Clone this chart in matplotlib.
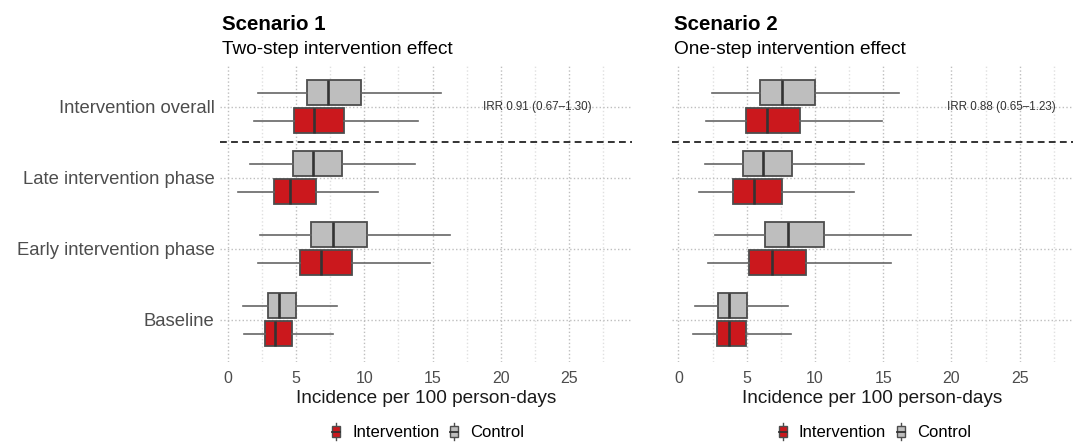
"""Boxplots of incidence per 100 person-days by study phase, two scenarios."""
import matplotlib
matplotlib.use("Agg")
import matplotlib.pyplot as plt
from matplotlib.patches import Rectangle
from matplotlib.lines import Line2D
from matplotlib.legend_handler import HandlerBase

plt.rcParams["font.family"] = ["Liberation Sans", "DejaVu Sans"]

categories = ["Baseline", "Early intervention phase", "Late intervention phase", "Intervention overall"]
groups = ["Intervention", "Control"]
x_ticks = [0, 5, 10, 15, 20, 25]

# [whisker low, q1, median, q3, whisker high] per category (Baseline -> Overall)
s1_control = [
    [1.10, 2.93, 3.76, 5.00, 8.03],
    [2.34, 6.08, 7.71, 10.18, 16.30],
    [1.66, 4.80, 6.25, 8.39, 13.74],
    [2.20, 5.78, 7.37, 9.74, 15.60],
]
s1_intervention = [
    [1.17, 2.71, 3.49, 4.69, 7.71],
    [2.20, 5.27, 6.81, 9.10, 14.84],
    [0.73, 3.39, 4.59, 6.44, 11.03],
    [1.90, 4.83, 6.32, 8.49, 13.90],
]
s2_control = [
    [1.22, 2.91, 3.74, 4.99, 8.04],
    [2.66, 6.33, 8.04, 10.63, 17.06],
    [1.93, 4.72, 6.16, 8.31, 13.61],
    [2.47, 5.94, 7.62, 10.04, 16.15],
]
s2_intervention = [
    [1.08, 2.79, 3.67, 4.94, 8.21],
    [2.20, 5.18, 6.84, 9.33, 15.54],
    [1.51, 4.03, 5.52, 7.58, 12.83],
    [2.03, 4.94, 6.52, 8.90, 14.88],
]

titles = ["Scenario 1", "Scenario 2"]
subtitles = ["Two-step intervention effect", "One-step intervention effect"]
irr_labels = ["IRR 0.91 (0.67\u20131.30)", "IRR 0.88 (0.65\u20131.23)"]

RED = "#CB181D"
GREY = "#BEBEBE"
EDGE = "#4D4D4D"
TXT = "#4D4D4D"


class HandlerBoxKey(HandlerBase):
    """Small boxplot glyph for the legend keys (like ggplot's)."""

    def create_artists(self, legend, orig_handle, xdescent, ydescent,
                       width, height, fontsize, trans):
        fc = orig_handle.get_facecolor()
        cx = width / 2 - xdescent
        bw = width * 0.5
        y0 = -ydescent
        whisk = Line2D([cx, cx], [y0 - 0.25 * height, y0 + 1.25 * height],
                       color=EDGE, lw=1.0, transform=trans)
        box = Rectangle((cx - bw / 2, y0 + 0.05 * height), bw, 0.9 * height,
                        facecolor=fc, edgecolor=EDGE, lw=1.0, transform=trans)
        med = Line2D([cx - bw / 2, cx + bw / 2], [y0 + height / 2] * 2,
                     color="#333333", lw=1.3, transform=trans)
        return [whisk, box, med]


def to_stats(rows):
    return [dict(whislo=r[0], q1=r[1], med=r[2], q3=r[3], whishi=r[4], fliers=[])
            for r in rows]


fig = plt.figure(figsize=(10.73, 4.43), dpi=100)
W, H = 1073, 443
panel_px = [(220, 632), (672, 1073)]
xlims = [(-0.56, 29.6), (-0.47, 28.9)]
irr_x = [22.7, 23.65]
top_px, bot_px = 64.1, 362.3

scenarios = [(s1_intervention, s1_control), (s2_intervention, s2_control)]
ypos = list(range(1, len(categories) + 1))

for k, (interv, ctrl) in enumerate(scenarios):
    x0, x1 = panel_px[k]
    ax = fig.add_axes([x0 / W, (H - bot_px) / H, (x1 - x0) / W, (bot_px - top_px) / H])

    for rows, color, off in [(ctrl, GREY, 0.2), (interv, RED, -0.2)]:
        ax.bxp(to_stats(rows), positions=[p + off for p in ypos], widths=0.35,
               orientation="horizontal", showcaps=False, showfliers=False,
               patch_artist=True, manage_ticks=False,
               boxprops=dict(facecolor=color, edgecolor=EDGE, linewidth=1.3),
               whiskerprops=dict(color="#666666", linewidth=1.2),
               medianprops=dict(color="#333333", linewidth=1.9),
               zorder=3)

    ax.set_xlim(*xlims[k])
    ax.set_ylim(0.4, len(categories) + 0.6)
    ax.set_xticks(x_ticks)
    ax.set_xticks([v + 2.5 for v in x_ticks], minor=True)
    ax.set_yticks(ypos)
    ax.set_yticklabels(categories if k == 0 else [])
    ax.grid(True, which="major", color="#BEBEBE", linestyle=":", linewidth=1.0)
    ax.grid(True, which="minor", axis="x", color="#E0E0E0", linestyle=":", linewidth=1.0)
    ax.set_axisbelow(True)
    for s in ax.spines.values():
        s.set_visible(False)
    ax.tick_params(axis="both", which="both", length=0)
    ax.tick_params(axis="x", labelsize=11.5, labelcolor=TXT, pad=6)
    ax.tick_params(axis="y", labelsize=13.3, labelcolor=TXT, pad=4)

    ax.axhline(3.5, color="#333333", linewidth=1.4, linestyle=(0, (3.5, 2.2)), zorder=2)
    ax.text(irr_x[k], 4, irr_labels[k], fontsize=8.4, color="#333333",
            ha="center", va="center")

    ax.set_xlabel("Incidence per 100 person-days", fontsize=13.7, color="#1A1A1A", labelpad=3)

    fig.text(x0 / W + 0.0015, (H - 30) / H, titles[k], fontsize=14.8,
             fontweight="bold", color="black", va="baseline", ha="left")
    fig.text(x0 / W + 0.0015, (H - 54) / H, subtitles[k], fontsize=13.7,
             color="black", va="baseline", ha="left")

    handles = [Rectangle((0, 0), 1, 1, facecolor=RED), Rectangle((0, 0), 1, 1, facecolor=GREY)]
    ax.legend(handles, groups, loc="center", bbox_to_anchor=(0.5, -0.237),
              ncol=2, frameon=False, fontsize=12, handlelength=1.0,
              handletextpad=0.45, columnspacing=0.4,
              handler_map={Rectangle: HandlerBoxKey()})

fig.savefig("out.png", dpi=100)
